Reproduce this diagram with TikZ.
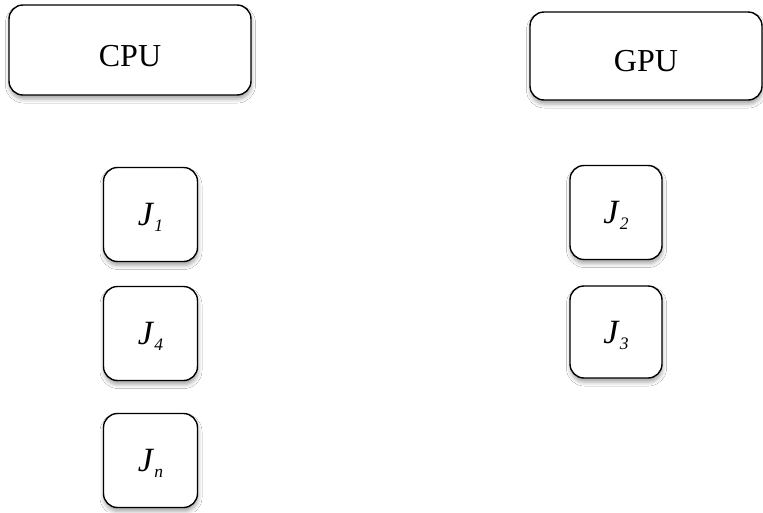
\documentclass[tikz,border=0pt]{standalone}
\usepackage{fontspec}
\setmainfont{Liberation Serif}
\usetikzlibrary{shadows.blur}
\newcommand{\jlab}[1]{\textit{J}\raisebox{-6pt}{\fontsize{17.5}{17.5}\selectfont\textit{#1}}}
\tikzset{
  box/.style={draw=black, line width=1.4pt, rounded corners=14pt, fill=white,
    blur shadow={shadow xshift=0.5pt, shadow yshift=-4pt, shadow blur radius=4pt, shadow opacity=35},
    font=\fontsize{32}{32}\selectfont, inner sep=0pt, text depth=0pt},
  jbox/.style={box, minimum width=94pt, minimum height=94pt,
    font=\fontsize{34}{34}\selectfont, text height=22.5pt}
}
\begin{document}
\begin{tikzpicture}[x=1pt,y=-1pt]
\useasboundingbox[fill=white] (0,0) rectangle (763,512);
\node[box, minimum width=242pt, minimum height=90pt, text height=33pt] (cpu) at (130,50) {CPU};
\node[box, minimum width=232pt, minimum height=88pt, text height=31pt] (gpu) at (646,56) {GPU};
\node[jbox] (j1) at (150.5,214.5) {\jlab{1}};
\node[jbox] (j4) at (150.5,333.5) {\jlab{4}};
\node[jbox] (jn) at (150.5,460.5) {\jlab{n}};
\node[jbox, minimum width=92pt] (j2) at (616,212.5) {\jlab{2}};
\node[jbox, minimum width=92pt, minimum height=92pt] (j3) at (616,332) {\jlab{3}};
\end{tikzpicture}
\end{document}
